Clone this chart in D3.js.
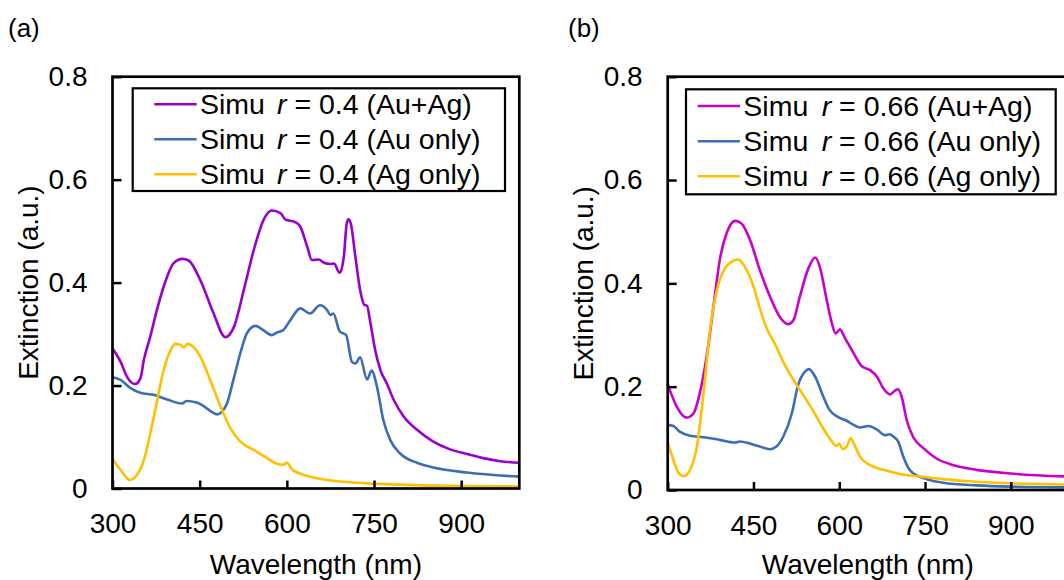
<!DOCTYPE html>
<html><head><meta charset="utf-8">
<script src="https://cdn.jsdelivr.net/npm/d3@7"></script>
<style>
body{margin:0;background:#fff}
svg text{font-family:Arial,"Liberation Sans",sans-serif;fill:#000}
</style>
</head><body>
<svg id="chart" width="1064" height="580"></svg>
<script>
// ---------- data (wavelength nm, extinction a.u.) ----------
const xTicks = [300, 450, 600, 750, 900];
const yTicks = [0, 0.2, 0.4, 0.6, 0.8];
const seriesNames = ["(Au+Ag)", "(Au only)", "(Ag only)"];
const ratioA = "0.4";
const ratioB = "0.66";

const aAuAg = [[300,0.272],[314,0.246],[325,0.217],[339,0.203],[348,0.214],[354,0.25],[365,0.295],[376,0.345],[388,0.392],[405,0.4375],[420,0.446],[431,0.443],[451,0.405],[474,0.340],[494,0.294],[509,0.314],[526,0.386],[543,0.463],[560,0.522],[574,0.540],[589,0.535],[597,0.523],[615,0.517],[623,0.509],[635,0.47],[643,0.444],[655,0.445],[663,0.439],[675,0.436],[681,0.437],[691,0.419],[698,0.45],[703,0.515],[706,0.523],[710,0.515],[718,0.45],[726,0.386],[733,0.357],[738,0.355],[743,0.327],[752,0.269],[761,0.230],[772,0.204],[784,0.172],[801,0.140],[824,0.114],[852,0.091],[881,0.076],[910,0.067],[938,0.059],[967,0.053],[1000,0.050]];
const aAu = [[300,0.216],[314,0.211],[331,0.195],[348,0.186],[371,0.182],[394,0.173],[420,0.165],[427,0.170],[445,0.167],[457,0.160],[468,0.151],[480,0.144],[488,0.149],[497,0.165],[508,0.211],[520,0.263],[531,0.301],[546,0.316],[560,0.307],[574,0.298],[583,0.303],[594,0.308],[606,0.327],[623,0.350],[640,0.340],[657,0.356],[669,0.347],[675,0.337],[680,0.340],[691,0.305],[702,0.298],[712,0.246],[718,0.243],[726,0.255],[738,0.212],[746,0.229],[755,0.198],[766,0.133],[778,0.094],[795,0.068],[824,0.050],[852,0.041],[910,0.031],[1000,0.023]];
const aAg = [[300,0.058],[314,0.036],[330,0.0165],[342,0.026],[354,0.055],[365,0.107],[377,0.172],[388,0.230],[400,0.269],[408,0.281],[417,0.279],[423,0.274],[429,0.281],[440,0.274],[451,0.256],[468,0.211],[486,0.159],[503,0.117],[520,0.091],[543,0.075],[566,0.059],[583,0.048],[594,0.046],[600,0.050],[609,0.037],[623,0.029],[652,0.020],[680,0.015],[738,0.010],[795,0.0075],[852,0.0055],[1000,0.004]];

const bAuAg = [[300,0.205],[316,0.161],[333,0.140],[345,0.148],[356,0.187],[368,0.258],[380,0.355],[391,0.445],[403,0.497],[418,0.521],[429,0.516],[444,0.484],[461,0.426],[479,0.374],[496,0.335],[511,0.321],[520,0.329],[531,0.374],[546,0.429],[558,0.450],[566,0.432],[578,0.368],[587,0.323],[594,0.303],[601,0.311],[610,0.294],[625,0.265],[639,0.240],[654,0.232],[666,0.219],[677,0.197],[689,0.185],[697,0.192],[703,0.195],[709,0.181],[718,0.135],[729,0.103],[747,0.081],[770,0.061],[800,0.048],[840,0.039],[899,0.032],[1000,0.026]];
const bAu = [[300,0.126],[310,0.124],[321,0.113],[339,0.105],[362,0.102],[391,0.097],[418,0.092],[426,0.094],[444,0.090],[461,0.084],[479,0.079],[490,0.084],[502,0.103],[517,0.148],[528,0.203],[540,0.229],[547,0.234],[558,0.219],[572,0.181],[583,0.155],[598,0.141],[613,0.134],[625,0.126],[636,0.121],[651,0.124],[666,0.117],[680,0.106],[688,0.108],[695,0.103],[703,0.094],[712,0.0645],[723,0.039],[738,0.027],[753,0.021],[782,0.014],[840,0.009],[899,0.0065],[1000,0.005]];
const bAg = [[300,0.092],[310,0.058],[318,0.035],[328,0.027],[339,0.039],[351,0.084],[362,0.181],[374,0.310],[386,0.387],[400,0.429],[412,0.442],[423,0.4465],[435,0.432],[450,0.394],[461,0.352],[473,0.313],[487,0.284],[502,0.248],[520,0.213],[537,0.184],[555,0.152],[572,0.119],[587,0.094],[595,0.085],[600,0.090],[606,0.079],[613,0.084],[620,0.100],[628,0.084],[636,0.065],[654,0.048],[677,0.039],[706,0.031],[741,0.026],[782,0.021],[840,0.016],[899,0.013],[1000,0.0105]];

// ---------- layout ----------
const panels = [
  {label:"(a)", labelX:8, x0:112.5, x1:519.3, y0:488.5, y1:76.7, ratio:ratioA,
   series:[aAuAg, aAu, aAg], colors:["#9900CC","#3D6DB5","#FFC000"],
   leg:{x:132.7, y:88.3, w:372.3, h:102.7, rows:[104.3,139.3,174.3], lx0:154.3, lx1:196.7, tx:200, rx:277}},
  {label:"(b)", labelX:568, x0:667.7, x1:1068, y0:490, y1:76.7, ratio:ratioB,
   series:[bAuAg, bAu, bAg], colors:["#CC00CC","#3D6DB5","#FFC000"],
   leg:{x:686, y:89.3, w:369.7, h:105, rows:[106,141.3,176.3], lx0:697.7, lx1:740, tx:743.3, rx:821.7}}
];

const svg = d3.select("#chart");
const FS = 28;

panels.forEach(p => {
  const x = d3.scaleLinear().domain([300, 1000]).range([p.x0, p.x1]);
  const y = d3.scaleLinear().domain([0, 0.8]).range([p.y0, p.y1]);
  const g = svg.append("g");

  // curves
  const line = d3.line().x(d => x(d[0])).y(d => y(d[1])).curve(d3.curveMonotoneX);
  p.series.forEach((s, i) => {
    g.append("path").datum(s).attr("d", line)
      .attr("fill", "none").attr("stroke", p.colors[i])
      .attr("stroke-width", 2.6).attr("stroke-linejoin", "round");
  });

  // axes (inward ticks)
  const gx = g.append("g").attr("transform", `translate(0,${p.y0})`)
    .call(d3.axisBottom(x).tickValues(xTicks).tickSize(-8).tickPadding(25));
  const gy = g.append("g").attr("transform", `translate(${p.x0},0)`)
    .call(d3.axisLeft(y).tickValues(yTicks).tickSize(-9).tickPadding(25)
      .tickFormat(d => d === 0 ? "0" : d.toFixed(1)));
  [gx, gy].forEach(ax => {
    ax.select(".domain").remove();
    ax.attr("font-size", null).attr("font-family", null);
    ax.selectAll("line").attr("stroke", "#000").attr("stroke-width", 2.5);
    ax.selectAll("text").style("font-size", FS + "px").attr("fill", "#000");
  });

  // plot frame
  g.append("rect").attr("x", p.x0).attr("y", p.y1)
    .attr("width", p.x1 - p.x0).attr("height", p.y0 - p.y1)
    .attr("fill", "none").attr("stroke", "#000").attr("stroke-width", 2.7);

  // axis titles
  g.append("text").attr("x", (p.x0 + p.x1) / 2).attr("y", 574)
    .attr("text-anchor", "middle").style("font-size", FS + "px").text("Wavelength (nm)");
  g.append("text").attr("transform", `translate(${p.x0 - 85},${(p.y0 + p.y1) / 2}) rotate(-90)`)
    .attr("dy", "0.36em").attr("text-anchor", "middle").style("font-size", FS + "px")
    .text("Extinction (a.u.)");

  // panel label
  g.append("text").attr("x", p.labelX).attr("y", 37).style("font-size", "26px").text(p.label);

  // legend
  const L = p.leg;
  g.append("rect").attr("x", L.x).attr("y", L.y).attr("width", L.w).attr("height", L.h)
    .attr("fill", "#fff").attr("stroke", "#000").attr("stroke-width", 2.2);
  seriesNames.forEach((nm, i) => {
    const cy = L.rows[i];
    g.append("line").attr("x1", L.lx0).attr("x2", L.lx1).attr("y1", cy).attr("y2", cy)
      .attr("stroke", p.colors[i]).attr("stroke-width", 2.6);
    const t = g.append("text").attr("y", cy + 10).style("font-size", "28.5px");
    t.append("tspan").attr("x", L.tx).text("Simu");
    t.append("tspan").attr("x", L.rx).style("font-style", "italic").text("r");
    t.append("tspan").text(" = " + p.ratio + " " + nm);
  });
});
</script>
</body></html>
